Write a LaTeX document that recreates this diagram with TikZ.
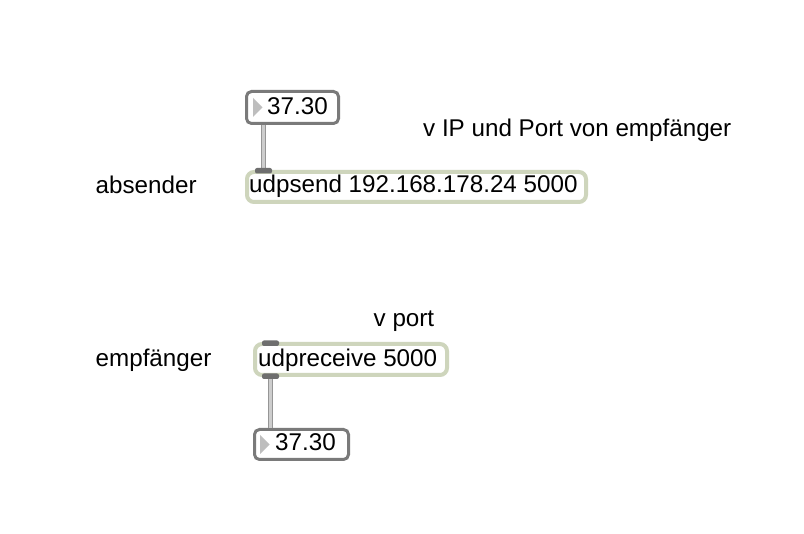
\documentclass[tikz,border=0pt]{standalone}
\usepackage{fontspec}
\setmainfont{Liberation Sans}
\definecolor{boxgray}{RGB}{122,122,122}
\definecolor{objgreen}{RGB}{206,213,188}
\definecolor{cablegray}{RGB}{150,150,150}
\definecolor{cablelight}{RGB}{205,205,205}
\definecolor{portgray}{RGB}{110,110,110}
\definecolor{triangray}{RGB}{190,190,190}
\tikzset{
  numbox/.style={draw=boxgray, line width=3pt, rounded corners=5pt, fill=white, inner sep=0pt},
  objbox/.style={draw=objgreen, line width=4pt, rounded corners=7pt, fill=white, inner sep=0pt},
  txt/.style={font=\fontsize{24.2}{29}\selectfont, inner sep=0pt, anchor=base west},
  cable/.style={draw=cablegray, line width=1pt, double=cablelight, double distance=3pt},
  port/.style={fill=portgray, rounded corners=2pt}
}
\begin{document}
\begin{tikzpicture}[x=1pt,y=-1pt]
\useasboundingbox[fill=white] (0,0) rectangle (804,534);

% absender
\node[numbox, minimum width=92pt, minimum height=32pt] (numtop) at (292.5,107.5) {};
\fill[triangray] (253,98) -- (262.5,107.5) -- (253,117) -- cycle;
\node[txt] (numtoptxt) at (267,115) {37.30};

\coordinate (sendin) at (263.5,170.5);
\draw[cable] (sendin |- numtop.south) -- (sendin);

\node[objbox, minimum width=339pt, minimum height=30pt] (send) at (416.5,187) {};
\fill[port] (255,168) rectangle (272,173.5);
\node[txt] (sendtxt) at (249,193) {udpsend 192.168.178.24 5000};

\node[txt] (lblsend) at (95.5,194) {absender};
\node[txt] (cmtip) at (423,136.5) {v IP und Port von empf\"anger};

% empfaenger
\node[txt] (cmtport) at (373.5,327) {v port};
\node[txt] (lblrecv) at (95.5,366.5) {empf\"anger};

\coordinate (recvout) at (270.5,376);
\node[numbox, minimum width=94pt, minimum height=30pt] (numbot) at (301.5,444.5) {};
\draw[cable] (recvout) -- (recvout |- numbot.north);

\node[objbox, minimum width=192pt, minimum height=31pt] (recv) at (351,359.5) {};
\fill[port] (262,340.5) rectangle (279,346);
\fill[port] (262,373.5) rectangle (279,379);
\node[txt] (recvtxt) at (258,366.5) {udpreceive 5000};

\fill[triangray] (260,435) -- (269.5,444.5) -- (260,454) -- cycle;
\node[txt] (numbottxt) at (275,450.5) {37.30};

\end{tikzpicture}
\end{document}
